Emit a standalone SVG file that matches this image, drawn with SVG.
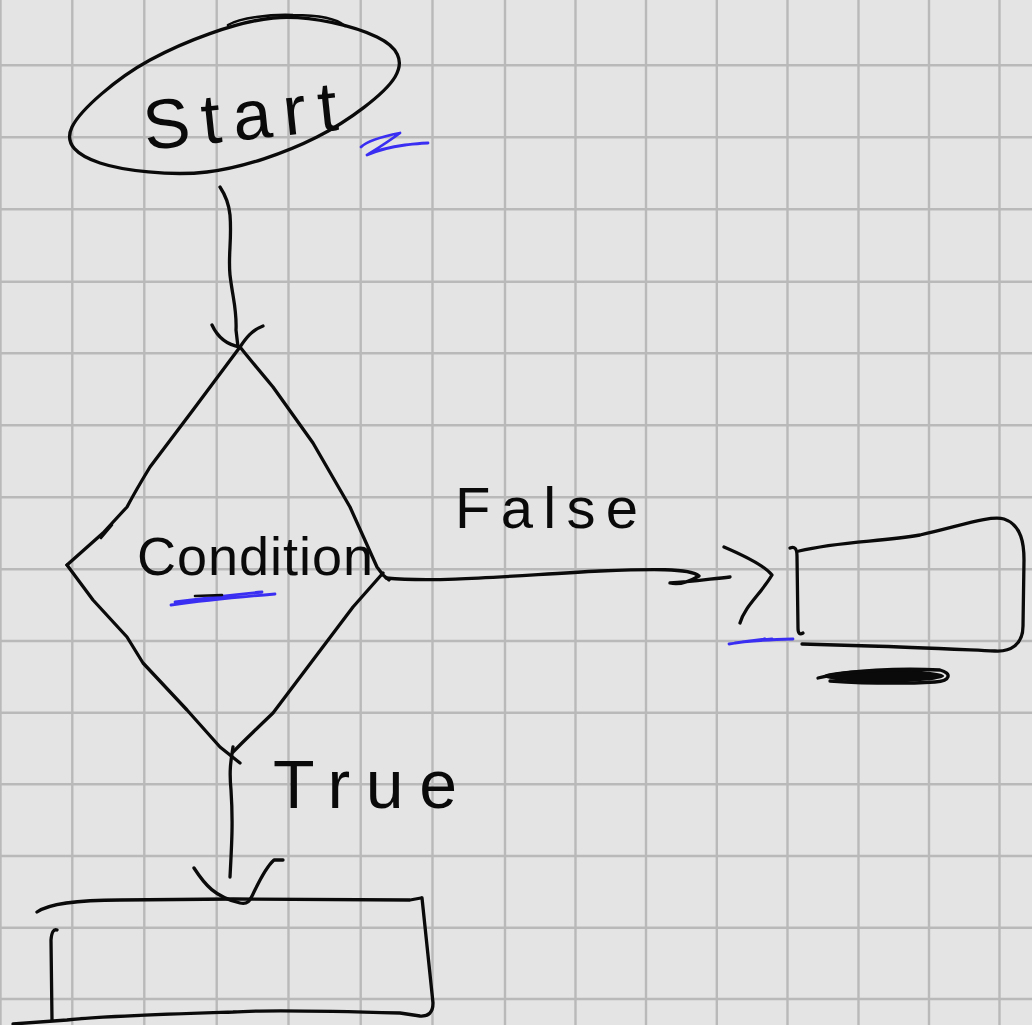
<svg xmlns="http://www.w3.org/2000/svg" width="1032" height="1025" viewBox="0 0 1032 1025">
  <style>
    .grid { stroke: #b9b9b9; stroke-width: 2.4; fill: none; }
    .ink { fill: none; stroke: #0a0a0a; stroke-width: 3.3; stroke-linecap: round; stroke-linejoin: round; }
    .thin { stroke-width: 2.6; }
    .blue { fill: none; stroke: #3a2ef2; stroke-width: 2.8; stroke-linecap: round; stroke-linejoin: round; }
    .hand { font-family: "Liberation Sans", "DejaVu Sans", sans-serif; fill: #0a0a0a; }
  </style>

  <!-- paper -->
  <rect width="1032" height="1025" fill="#e4e4e4"/>
  <path class="grid" d="M0.5 0V1025 M72.3 0V1025 M144.3 0V1025 M216.7 0V1025 M288.5 0V1025 M360.7 0V1025 M432.5 0V1025 M505 0V1025 M575.5 0V1025 M646 0V1025 M716.8 0V1025 M787.5 0V1025 M858.5 0V1025 M929 0V1025 M999.5 0V1025
    M0 65.3H1032 M0 137.3H1032 M0 209.3H1032 M0 281.7H1032 M0 353.3H1032 M0 425.3H1032 M0 497.3H1032 M0 569.3H1032 M0 641H1032 M0 712.7H1032 M0 784.3H1032 M0 856H1032 M0 927.7H1032 M0 999H1032"/>

  <!-- start terminal -->
  <g id="start">
    <path class="ink" d="M72 127 C80.3 109.8 116.5 78.2 150 60 C183.5 41.8 235.2 21.8 273 18 C310.8 14.2 356.7 27.2 377 37 C397.3 46.8 405 60.3 395 77 C385 93.7 348.3 121.2 317 137 C285.7 152.8 243.2 167.7 207 172 C170.8 176.3 122.5 170.5 100 163 C77.5 155.5 63.7 144.2 72 127"/>
    <path class="ink thin" d="M228 25 C240 18 270 14 293 15 C315 15 335 17 345 26"/>
    <text class="hand" x="142" y="140" font-size="70" textLength="195" transform="rotate(-6 240 110)">Start</text>
    <path class="blue" d="M361 147 C366 142 380 137 400 133 C388 142 375 150 367 155 C378 150 390 147 405 145 C415 144 422 143 428 143"/>
  </g>

  <!-- decision -->
  <g id="condition">
    <path class="ink" d="M240 347 L193 410 L150 467 Q136 490 127 507 L103 533 L67 565"/>
    <path class="ink" d="M67 565 L93 600 L127 637 Q135 650 143 663 L187 710 L220 747 L240 763"/>
    <path class="ink" d="M240 347 Q252 362 273 387 L313 443 L350 507 L377 567 L383 575 L389 580"/>
    <path class="ink" d="M383 573 L353 607 L313 660 L273 713 Q248 737 240 745 L233 752"/>
    <path class="ink thin" d="M101 538 L112 525"/>
    <text class="hand" x="137" y="575" font-size="54" textLength="236">Condition</text>
    <path class="blue" stroke-width="3.4" d="M171 605 C200 601 240 597 275 594 M175 602 C205 598 230 595 262 592"/>
    <path class="ink thin" d="M195 596 L222 595"/>
  </g>

  <!-- false branch target -->
  <g id="false-step">
    <path class="ink" d="M790 548 Q797 545 797 556 L798 628 Q798 636 803 633"/>
    <path class="ink" d="M799 551 C840 541 880 542 920 535 C960 526 990 515 1004 519 C1022 525 1024 545 1024 560 L1023 626 C1023 645 1010 652 995 651 C950 649 910 647 870 646 L802 644"/>
    <path class="blue" stroke-width="3.8" d="M729 644 C745 641 760 640 793 639 M735 643 L765 639 L742 642 L772 639"/>
    <ellipse cx="884" cy="676" rx="60" ry="6.5" fill="#0a0a0a"/>
    <path class="ink" d="M818 678 C850 670 900 668 940 670 C952 673 951 681 935 682 C900 684 860 683 830 681"/>
  </g>

  <!-- true branch target -->
  <g id="true-step">
    <path class="ink" d="M37 912 C50 903 80 900 120 900 L233 899 L410 900 L421 898"/>
    <path class="ink" d="M422 898 L433 1003 Q433 1017 420 1016 L400 1013 C330 1011 260 1010 233 1012 C170 1014 100 1016 67 1020 L13 1024"/>
    <path class="ink" d="M57 930 Q52 928 51 940 L52 1020"/>
  </g>

  <!-- connectors -->
  <g id="connectors">
    <path class="ink" d="M220 187 C226 196 229 205 230 215 C232 240 228 255 230 275 C233 300 237 310 236 330 L238 347"/>
    <path class="ink" d="M212 325 C218 338 228 345 240 347 C246 338 252 330 263 326"/>

    <path class="ink" d="M386 578 C440 583 520 575 600 571 C650 569 690 568 699 576 Q682 586 670 583 C690 582 710 579 730 577"/>
    <path class="ink" d="M724 547 C745 556 765 566 772 575 C760 595 745 606 740 623"/>
    <text class="hand" x="455" y="528" font-size="58" textLength="183">False</text>

    <path class="ink" d="M233 747 C231 760 229 770 231 790 C233 820 232 840 230 877"/>
    <path class="ink" d="M194 868 C205 885 215 897 240 903 C248 905 250 900 253 894 C259 882 265 868 274 860 L283 860"/>
    <text class="hand" x="273" y="808" font-size="68" textLength="184">True</text>
  </g>
</svg>
